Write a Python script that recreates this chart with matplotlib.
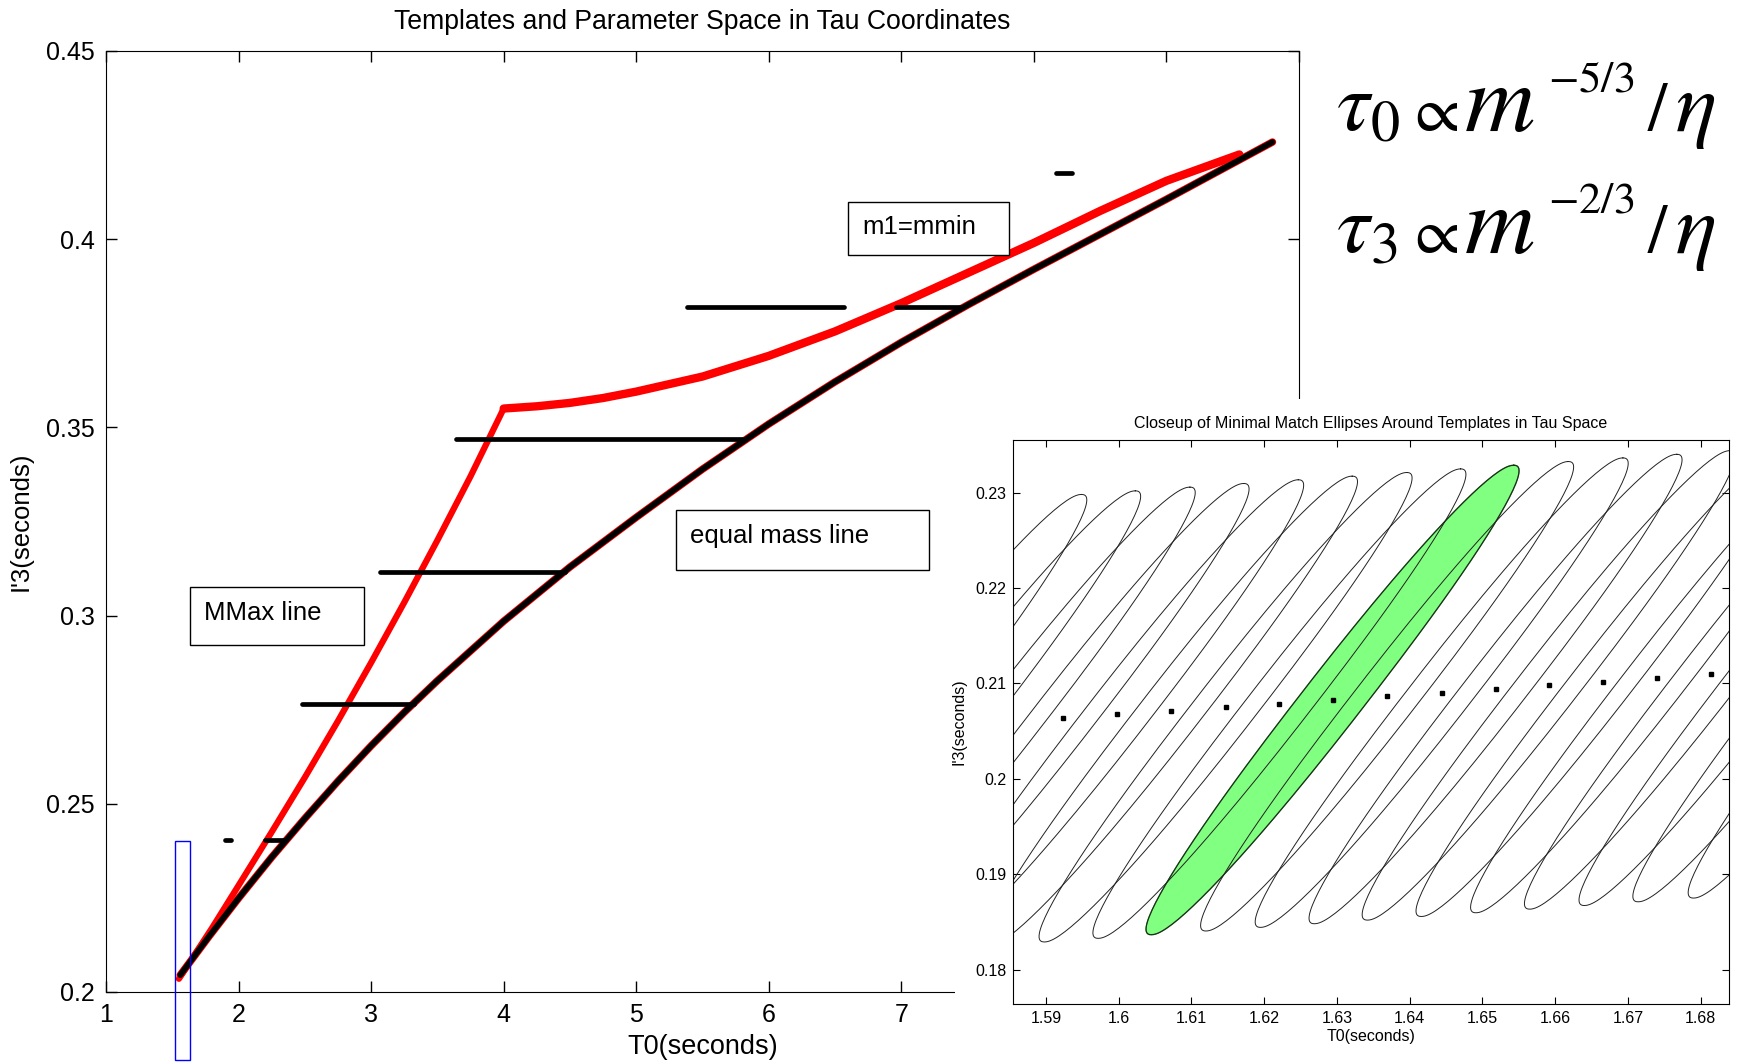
import matplotlib
matplotlib.use("Agg")
import matplotlib.pyplot as plt
from matplotlib.patches import Rectangle
import numpy as np

plt.rcParams['font.family'] = ['Liberation Sans', 'DejaVu Sans']
plt.rcParams['mathtext.fontset'] = 'stix'

# ---- main panel data (tau0, tau3 in seconds) ----
mmax_t0 = [1.55, 1.8, 2.0, 2.25, 2.5, 2.75, 3.0, 3.25, 3.5, 3.75, 4.0]
mmax_t3 = [0.2035, 0.217, 0.2283, 0.2425, 0.257, 0.272, 0.2875, 0.3035, 0.32, 0.337, 0.355]

mmin_t0 = [4.0, 4.25, 4.5, 4.75, 5.0, 5.5, 6.0, 6.5, 7.0, 7.5, 8.0, 8.5, 9.0, 9.55]
mmin_t3 = [0.355, 0.3556, 0.3565, 0.3578, 0.3595, 0.3635, 0.369, 0.3755, 0.383, 0.391, 0.399, 0.4075, 0.4155, 0.4225]

eq_t0 = [1.56, 1.78, 2.0, 2.25, 2.5, 2.75, 3.0, 3.25, 3.5, 4.0, 4.5, 5.0, 5.5, 6.0, 6.5, 7.0, 7.5, 8.0, 8.5, 9.0, 9.8]
eq_t3 = [0.2045, 0.2149, 0.2249, 0.2358, 0.2461, 0.2560, 0.2654, 0.2743, 0.2827, 0.2985, 0.3129, 0.3261,
         0.3389, 0.3509, 0.3621, 0.3726, 0.3825, 0.3920, 0.4013, 0.4106, 0.4258]

seg_t3 = [0.2405, 0.2405, 0.2765, 0.3115, 0.347, 0.382, 0.382, 0.4176]
seg_x0 = [1.90, 2.20, 2.48, 3.07, 3.64, 5.38, 6.96, 8.17]
seg_x1 = [1.94, 2.36, 3.32, 4.46, 5.80, 6.57, 7.44, 8.29]

zoom_box_t0 = [1.52, 1.637]
zoom_box_t3 = [0.1818, 0.24]

# ---- closeup data: template centres ----
tmpl_t0 = [1.5700, 1.5774, 1.5849, 1.5923, 1.5998, 1.6072, 1.6147, 1.6221, 1.6294,
           1.6369, 1.6444, 1.6518, 1.6591, 1.6665, 1.6740, 1.6814, 1.6889, 1.6963, 1.7039]
tmpl_t3 = [0.20520, 0.20558, 0.20597, 0.20635, 0.20674, 0.20712, 0.20750, 0.20788, 0.20826,
           0.20865, 0.20903, 0.20941, 0.20979, 0.21017, 0.21056, 0.21094, 0.21132, 0.21171, 0.21210]
highlight = 8
# ellipse reach of the tips in t0 / t3, and t0 half-width through the centre
ell_ax, ell_ay, ell_bx = 0.0249, 0.0246, 0.005

fig = plt.figure(figsize=(17.38, 10.64), dpi=100)

ax = fig.add_axes([0.061, 0.0677, 0.6864, 0.8844])
ax.plot(mmax_t0, mmax_t3, color='red', lw=4.5, solid_capstyle='round', solid_joinstyle='round', zorder=2)
ax.plot(mmin_t0, mmin_t3, color='red', lw=6, solid_capstyle='round', solid_joinstyle='round', zorder=2)
ax.plot(eq_t0, eq_t3, color='red', lw=5.4, solid_capstyle='round', solid_joinstyle='round', zorder=3)
ax.plot(eq_t0, eq_t3, color='black', lw=4.2, solid_capstyle='round', solid_joinstyle='round', zorder=4)
ax.hlines(seg_t3, seg_x0, seg_x1, color='black', lw=3.4, capstyle='round', zorder=5)
ax.add_patch(Rectangle((zoom_box_t0[0], zoom_box_t3[0]), zoom_box_t0[1] - zoom_box_t0[0],
                       zoom_box_t3[1] - zoom_box_t3[0], fill=False, edgecolor='blue',
                       lw=1.0, clip_on=False, zorder=6))

ax.set_xlim(1, 10)
ax.set_ylim(0.2, 0.45)
ax.set_xticks(range(1, 11))
ax.set_xticklabels(['1', '2', '3', '4', '5', '6', '7', '', '', ''])
ax.set_yticks([0.2, 0.25, 0.3, 0.35, 0.4, 0.45])
ax.set_yticklabels(['0.2', '0.25', '0.3', '0.35', '0.4', '0.45'])
ax.tick_params(direction='in', length=8, width=1, top=True, right=True, labelsize=18, pad=8)
ax.set_title('Templates and Parameter Space in Tau Coordinates', fontsize=19.2, pad=16)
ax.set_xlabel('T0(seconds)', fontsize=19.5, labelpad=5)
ax.set_ylabel("I'3(seconds)", fontsize=18.5, labelpad=10)

for (x0, x1, y0, y1), (tx, ty), label in [
        ((0.622, 0.757, 0.783, 0.8395), (0.634, 0.813), 'm1=mmin'),
        ((0.478, 0.690, 0.4485, 0.512), (0.4895, 0.485), 'equal mass line'),
        ((0.0704, 0.216, 0.369, 0.430), (0.082, 0.403), 'MMax line')]:
    ax.add_patch(Rectangle((x0, y0), x1 - x0, y1 - y0, transform=ax.transAxes,
                           facecolor='white', edgecolor='black', lw=1.0, zorder=7))
    ax.text(tx, ty, label, transform=ax.transAxes, fontsize=18.5, va='center', ha='left', zorder=8)

# scaling relations, set piece by piece like the slide
for base, sup_base, sym, expo in [(0.877, 0.914, r'$\tau_0$', r'$-5/3$'),
                                  (0.7625, 0.800, r'$\tau_3$', r'$-2/3$')]:
    fig.text(0.7685, base, sym, fontsize=60, va='baseline', ha='left')
    fig.text(0.8085, base, r'$\propto$', fontsize=47, va='baseline', ha='left')
    fig.text(0.8425, base, r'$m$', fontsize=70, va='baseline', ha='left')
    fig.text(0.8905, sup_base, expo, fontsize=32, va='baseline', ha='left')
    fig.text(0.9475, base, r'$/$', fontsize=50, va='baseline', ha='left')
    fig.text(0.9640, base, r'$\eta$', fontsize=62, va='baseline', ha='left')

# white backdrop for the closeup figure
bg = fig.add_axes([0.5495, 0.0, 0.4505, 0.625], zorder=1)
bg.set_xticks([])
bg.set_yticks([])
for s in bg.spines.values():
    s.set_visible(False)

ins = fig.add_axes([0.5829, 0.0564, 0.412, 0.530], zorder=2)
t = np.linspace(0, 2 * np.pi, 181)
c = np.sign(np.cos(t)) * np.abs(np.cos(t)) ** 0.9
s = np.sign(np.sin(t)) * np.abs(np.sin(t)) ** 0.9
for i, (cx, cy) in enumerate(zip(tmpl_t0, tmpl_t3)):
    ex = cx + ell_ax * c + ell_bx * s
    ey = cy + ell_ay * c
    if i == highlight:
        ins.fill(ex, ey, color='#80ff80', lw=0, zorder=1)
        ins.plot(ex, ey, color='#2a8a2a', lw=1.0, zorder=1.5)
    ins.plot(ex, ey, color='#222222', lw=0.7, zorder=2)
ins.plot(tmpl_t0, tmpl_t3, 's', color='black', ms=2.2, zorder=3)

ins.set_xlim(1.5855, 1.6839)
ins.set_ylim(0.1764, 0.2355)
ins.set_xticks([1.59, 1.60, 1.61, 1.62, 1.63, 1.64, 1.65, 1.66, 1.67, 1.68])
ins.set_xticklabels(['1.59', '1.6', '1.61', '1.62', '1.63', '1.64', '1.65', '1.66', '1.67', '1.68'])
ins.set_yticks([0.18, 0.19, 0.2, 0.21, 0.22, 0.23])
ins.set_yticklabels(['0.18', '0.19', '0.2', '0.21', '0.22', '0.23'])
ins.tick_params(direction='in', length=5, width=0.8, top=True, right=True, labelsize=11.5, pad=5)
ins.set_title('Closeup of Minimal Match Ellipses Around Templates in Tau Space', fontsize=11.5, pad=9)
ins.set_xlabel('T0(seconds)', fontsize=11.5, labelpad=2)
ins.set_ylabel("I'3(seconds)", fontsize=11.5, labelpad=6)

fig.savefig('out.png', dpi=100)
